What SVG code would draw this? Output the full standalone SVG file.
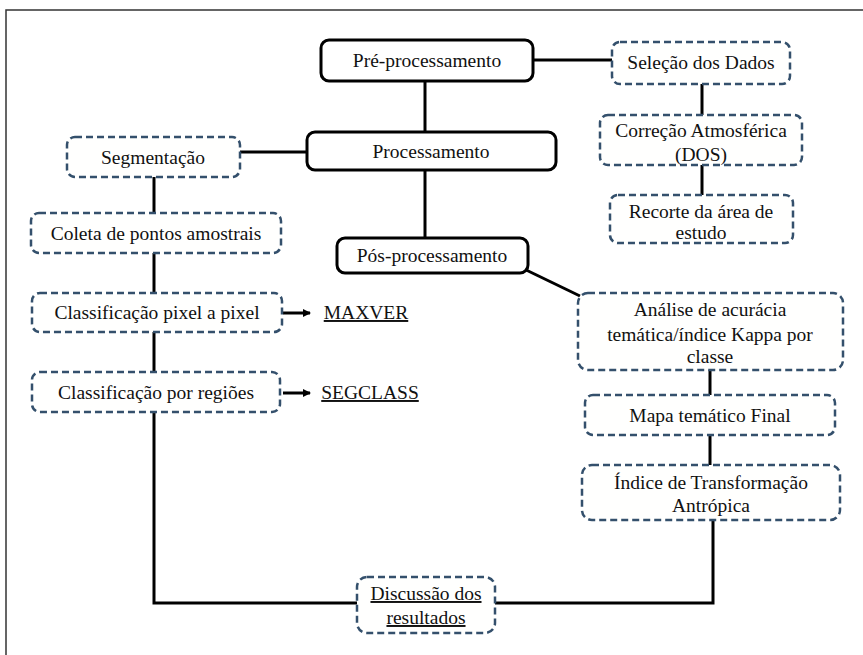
<svg xmlns="http://www.w3.org/2000/svg" width="863" height="655" viewBox="0 0 863 655">
<style>
.solid{fill:#fff;stroke:#000;stroke-width:3}
.dash{fill:#fffffe;stroke:#34506c;stroke-width:2.5;stroke-dasharray:7 4}
.t{font-family:"Liberation Serif","Times New Roman",serif;font-size:19.5px;fill:#111;text-anchor:middle}
.u{text-decoration:underline}
.c{stroke:#000;stroke-width:3;fill:none}
</style>
<defs>
<marker id="ah" markerWidth="8" markerHeight="8" refX="7" refY="4" orient="auto" markerUnits="userSpaceOnUse"><path d="M0,0 L8,4 L0,8 z" fill="#000"/></marker>
</defs>
<rect width="863" height="655" fill="#fff"/>
<path d="M6,655 V10 H863" fill="none" stroke="#333" stroke-width="1.5"/>
<g id="connectors">
<line class="c" x1="533" y1="60" x2="612" y2="60"/>
<line class="c" x1="425" y1="81" x2="425" y2="132"/>
<line class="c" x1="240" y1="152" x2="307" y2="152"/>
<line class="c" x1="425" y1="170" x2="425" y2="238"/>
<line class="c" x1="702" y1="84" x2="702" y2="115"/>
<line class="c" x1="702" y1="165" x2="702" y2="195"/>
<line class="c" x1="154" y1="177" x2="154" y2="213"/>
<line class="c" x1="154" y1="253" x2="154" y2="293"/>
<line class="c" x1="154" y1="332" x2="154" y2="372"/>
<line class="c" x1="283" y1="313" x2="310" y2="313" marker-end="url(#ah)"/>
<line class="c" x1="283" y1="393" x2="310" y2="393" marker-end="url(#ah)"/>
<line class="c" x1="522" y1="268" x2="580" y2="296"/>
<line class="c" x1="710" y1="370" x2="710" y2="395"/>
<line class="c" x1="710" y1="435" x2="710" y2="465"/>
<polyline class="c" points="154,412 154,603 357,603"/>
<polyline class="c" points="713,520 713,603 495,603"/>
</g>
<g id="pre"><rect class="solid" x="321" y="40" width="212" height="41" rx="8"/><text class="t" x="427" y="67">Pré-processamento</text></g>
<g id="proc"><rect class="solid" x="307" y="132" width="249" height="38" rx="8"/><text class="t" x="431" y="158">Processamento</text></g>
<g id="pos"><rect class="solid" x="337" y="238" width="191" height="35" rx="8"/><text class="t" x="432" y="262">Pós-processamento</text></g>
<g id="selecao"><rect class="dash" x="612" y="42" width="178" height="42" rx="8"/><text class="t" x="701" y="69">Seleção dos Dados</text></g>
<g id="correcao"><rect class="dash" x="600" y="115" width="202" height="50" rx="8"/><text class="t" x="701" y="137">Correção Atmosférica</text><text class="t" x="701" y="161">(DOS)</text></g>
<g id="recorte"><rect class="dash" x="610" y="195" width="183" height="48" rx="8"/><text class="t" x="701" y="218">Recorte da área de</text><text class="t" x="701" y="239">estudo</text></g>
<g id="segmentacao"><rect class="dash" x="67" y="137" width="173" height="40" rx="8"/><text class="t" x="153" y="164">Segmentação</text></g>
<g id="coleta"><rect class="dash" x="31" y="213" width="250" height="40" rx="8"/><text class="t" x="156" y="240">Coleta de pontos amostrais</text></g>
<g id="pixel"><rect class="dash" x="32" y="293" width="250" height="39" rx="8"/><text class="t" x="157" y="319">Classificação pixel a pixel</text></g>
<g id="regioes"><rect class="dash" x="32" y="372" width="248" height="40" rx="8"/><text class="t" x="156" y="399">Classificação por regiões</text></g>
<g id="maxver"><text class="t u" x="366" y="319">MAXVER</text></g>
<g id="segclass"><text class="t u" x="370" y="399">SEGCLASS</text></g>
<g id="analise"><rect class="dash" x="578" y="293" width="265" height="77" rx="10"/><text class="t" x="710" y="316">Análise de acurácia</text><text class="t" x="710" y="341">temática/índice Kappa por</text><text class="t" x="710" y="363">classe</text></g>
<g id="mapa"><rect class="dash" x="585" y="395" width="250" height="40" rx="8"/><text class="t" x="710" y="422">Mapa temático Final</text></g>
<g id="indice"><rect class="dash" x="582" y="465" width="258" height="55" rx="10"/><text class="t" x="711" y="489">Índice de Transformação</text><text class="t" x="711" y="512">Antrópica</text></g>
<g id="discussao"><rect class="dash" x="357" y="577" width="138" height="56" rx="10"/><text class="t u" x="426" y="600">Discussão dos</text><text class="t u" x="426" y="624">resultados</text></g>
</svg>
